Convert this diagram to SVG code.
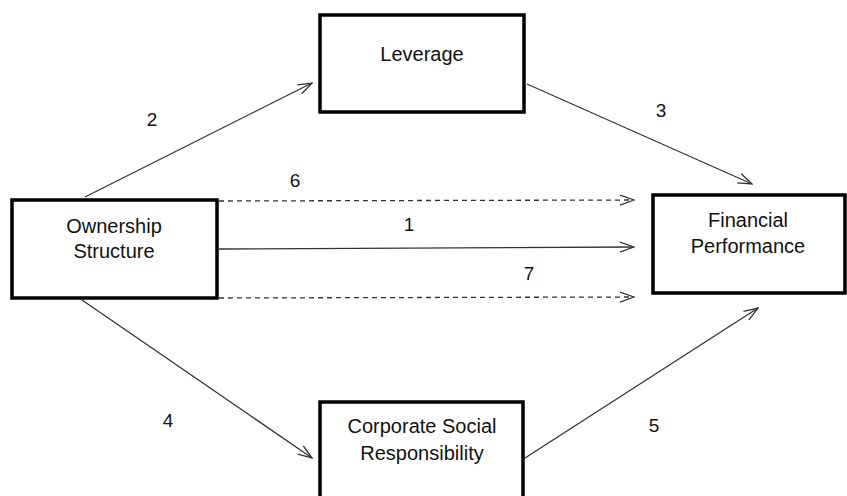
<svg xmlns="http://www.w3.org/2000/svg" width="847" height="496" viewBox="0 0 847 496">
<style>
.box{fill:#fff;stroke:#000;stroke-width:3.5}
.t{font-family:"Liberation Sans",Arial,sans-serif;font-size:20px;fill:#111;text-anchor:middle}
.n{font-family:"Liberation Sans",Arial,sans-serif;font-size:19px;fill:#111;text-anchor:middle}
.c{stroke:#333;stroke-width:1.3;fill:none;marker-end:url(#ah)}
.d{stroke-dasharray:5,4}
</style>
<defs>
<marker id="ah" markerWidth="16" markerHeight="12" refX="15" refY="6" orient="auto" markerUnits="userSpaceOnUse">
<path d="M1,1 L15,6 L1,11" fill="none" stroke="#333" stroke-width="1.3"/>
</marker>
</defs>
<g id="connectors">
<line class="c" x1="85" y1="197" x2="312" y2="83"/>
<line class="c" x1="527" y1="84" x2="752" y2="184"/>
<line class="c d" x1="219" y1="201" x2="634" y2="200"/>
<line class="c" x1="219" y1="249" x2="634" y2="247"/>
<line class="c d" x1="219" y1="298" x2="634" y2="297"/>
<line class="c" x1="82" y1="300" x2="312" y2="458"/>
<line class="c" x1="525" y1="458" x2="758" y2="308"/>
<text class="n" x="152" y="126">2</text>
<text class="n" x="661" y="117">3</text>
<text class="n" x="295" y="187">6</text>
<text class="n" x="409" y="231">1</text>
<text class="n" x="529" y="280">7</text>
<text class="n" x="168" y="427">4</text>
<text class="n" x="654" y="432">5</text>
</g>
<g id="leverage">
<rect class="box" x="320" y="15" width="204" height="97"/>
<text class="t" x="422" y="61">Leverage</text>
</g>
<g id="ownership">
<rect class="box" x="12" y="200" width="205" height="98"/>
<text class="t" x="114" y="233">Ownership</text>
<text class="t" x="114" y="258">Structure</text>
</g>
<g id="financial">
<rect class="box" x="653" y="195" width="192" height="98"/>
<text class="t" x="748" y="227">Financial</text>
<text class="t" x="748" y="253">Performance</text>
</g>
<g id="csr">
<rect class="box" x="320" y="402" width="203" height="100"/>
<text class="t" x="422" y="433">Corporate Social</text>
<text class="t" x="422" y="460">Responsibility</text>
</g>
</svg>
